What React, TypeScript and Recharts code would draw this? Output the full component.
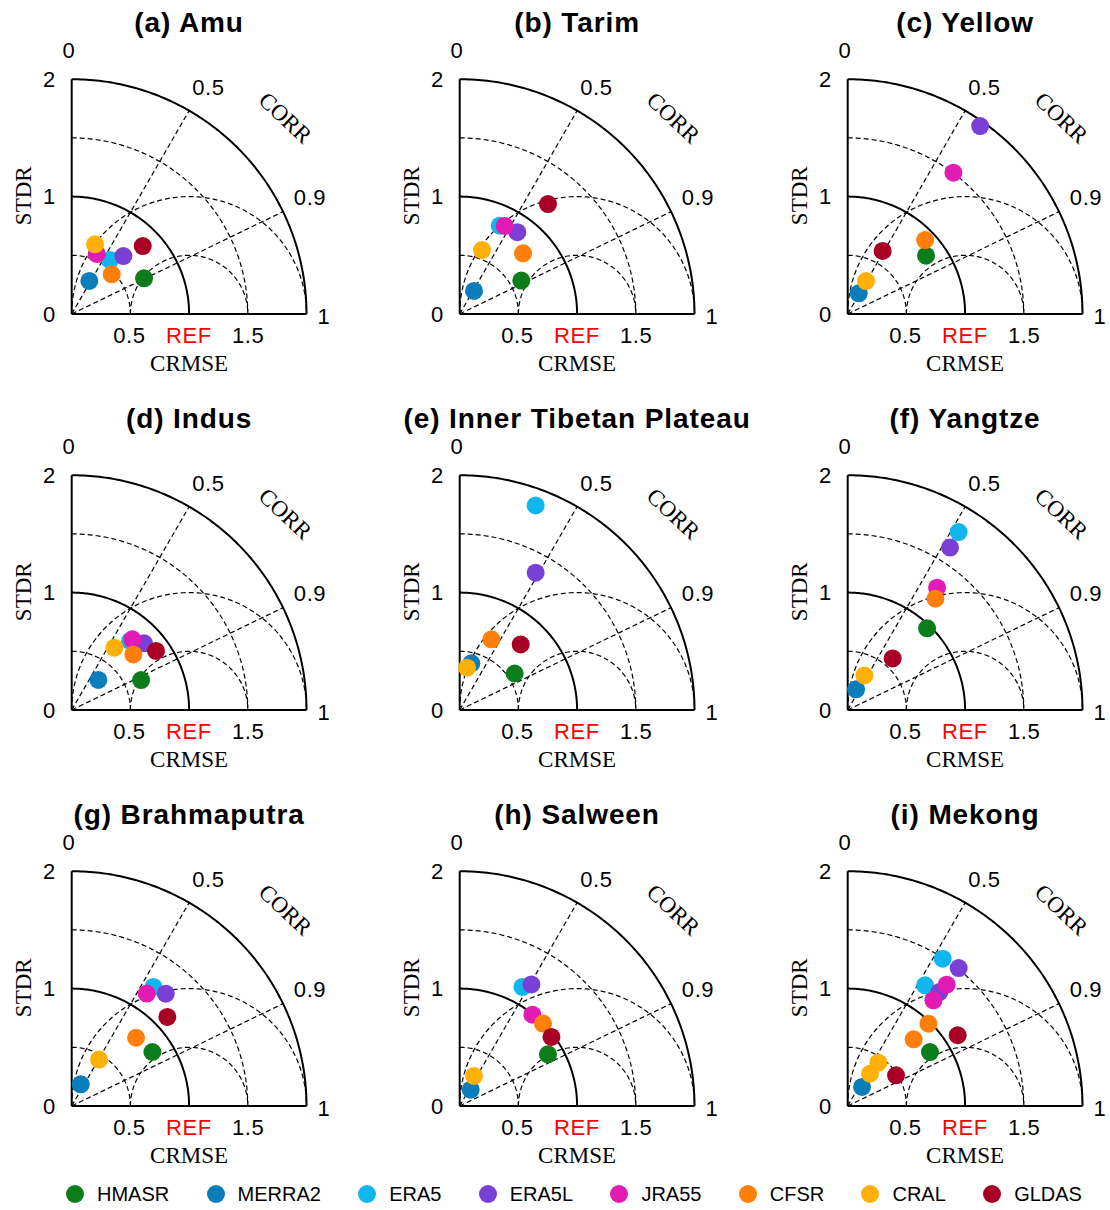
import React from 'react';
import { ComposedChart, XAxis, YAxis, Line, Scatter, ReferenceLine, ReferenceDot } from 'recharts';

// ---------- data ----------
const DATASETS = ['HMASR', 'MERRA2', 'ERA5', 'ERA5L', 'JRA55', 'CFSR', 'CRAL', 'GLDAS'];
const COLORS = ['#0b7d1b', '#0b7dbb', '#12b6ee', '#7a40d6', '#e21bb5', '#ff7f0a', '#ffb007', '#a80025'];

const BASIN_TITLES = [
  '(a) Amu', '(b) Tarim', '(c) Yellow',
  '(d) Indus', '(e) Inner Tibetan Plateau', '(f) Yangtze',
  '(g) Brahmaputra', '(h) Salween', '(i) Mekong',
];

// normalized standard deviation (STDR) and correlation, in DATASETS order (null = not shown)
const amuStd = [0.687, 0.319, 0.564, 0.661, 0.554, 0.480, 0.626, 0.837];
const amuCorr = [0.897, 0.471, 0.579, 0.666, 0.385, 0.710, 0.318, 0.723];
const tarimStd = [0.597, 0.231, 0.826, 0.852, 0.842, 0.747, 0.577, 1.201];
const tarimCorr = [0.879, 0.528, 0.413, 0.576, 0.455, 0.722, 0.329, 0.626];
const yellowStd = [0.832, 0.200, null, 1.958, 1.503, 0.912, 0.321, 0.614];
const yellowCorr = [0.802, 0.470, null, 0.576, 0.599, 0.723, 0.486, 0.485];
const indusStd = [0.644, 0.342, 0.770, 0.838, 0.794, 0.707, 0.643, 0.877];
const indusCorr = [0.918, 0.664, 0.645, 0.735, 0.651, 0.743, 0.565, 0.819];
const itpStd = [0.562, 0.410, 1.859, 1.337, null, 0.660, 0.366, 0.763];
const itpCorr = [0.833, 0.242, 0.348, 0.484, null, 0.409, 0.171, 0.681];
const yangtzeStd = [0.970, 0.190, 1.786, 1.635, 1.290, 1.207, 0.327, 0.583];
const yangtzeCorr = [0.697, 0.374, 0.529, 0.533, 0.590, 0.619, 0.434, 0.657];
const brahmaputraStd = [0.827, 0.200, 1.230, 1.248, 1.151, 0.799, 0.459, 1.113];
const brahmaputraCorr = [0.831, 0.384, 0.566, 0.642, 0.555, 0.686, 0.508, 0.732];
const salweenStd = [0.871, 0.168, 1.146, 1.202, 0.994, 0.998, 0.284, 0.978];
const salweenCorr = [0.863, 0.558, 0.466, 0.508, 0.623, 0.711, 0.430, 0.799];
const mekongStd = [0.838, 0.203, 1.493, 1.508, 1.334, 0.982, 0.452, 1.114];
const mekongCorr = [0.836, 0.601, 0.542, 0.627, 0.632, 0.700, 0.578, 0.841];
const mekong2Std = [null, null, 1.221, 1.246, 1.159, 0.799, 0.334, 0.488];
const mekong2Corr = [null, null, 0.540, 0.627, 0.630, 0.703, 0.569, 0.844];

const PANEL_SETS: (number | null)[][][][] = [
  [[amuStd, amuCorr]],
  [[tarimStd, tarimCorr]],
  [[yellowStd, yellowCorr]],
  [[indusStd, indusCorr]],
  [[itpStd, itpCorr]],
  [[yangtzeStd, yangtzeCorr]],
  [[brahmaputraStd, brahmaputraCorr]],
  [[salweenStd, salweenCorr]],
  [[mekongStd, mekongCorr], [mekong2Std, mekong2Corr]],
];

// diagram grid definition
const STD_SOLID = [1, 2];
const STD_DASHED = [0.5, 1.5];
const CRMSE_DASHED = [0.5, 1];
const CORR_LINES = [0.5, 0.9];

// ---------- layout ----------
const COL_STEP = 388;
const ROW_STEP = 396;
const ORIGIN_X = 71.7;
const ORIGIN_Y = 314;
const PX_PER_UNIT = 117.4;
const PANEL_H = 396;

const SANS = '"Liberation Sans", Arial, sans-serif';
const SERIF = '"Liberation Serif", "Times New Roman", serif';

type Lbl = { t: string; x: number; y: number; serif?: boolean; angle?: number; color?: string };
const LABELS: Lbl[] = [
  { t: '0', x: -0.023, y: 2.243 },
  { t: '2', x: -0.19, y: 2 },
  { t: '1', x: -0.19, y: 1 },
  { t: '0', x: -0.19, y: 0 },
  { t: '0.5', x: 1.164, y: 1.936 },
  { t: '0.9', x: 2.03, y: 0.999 },
  { t: '1', x: 2.149, y: -0.017 },
  { t: 'CORR', x: 1.823, y: 1.675, serif: true, angle: 43 },
  { t: 'STDR', x: -0.419, y: 1.007, serif: true, angle: -90 },
  { t: '0.5', x: 0.491, y: -0.179 },
  { t: 'REF', x: 0.999, y: -0.179, color: '#ff0000' },
  { t: '1.5', x: 1.503, y: -0.179 },
  { t: 'CRMSE', x: 1.0, y: -0.42, serif: true },
];

function arc(cx: number, cy: number, r: number, a0: number, a1: number) {
  const n = 120;
  const pts: { x: number; y: number }[] = [];
  for (let i = 0; i <= n; i++) {
    const a = a0 + ((a1 - a0) * i) / n;
    pts.push({ x: cx + r * Math.cos(a), y: cy + r * Math.sin(a) });
  }
  return pts;
}

function toPoints(std: (number | null)[], corr: (number | null)[], k: number) {
  const s = std[k];
  const c = corr[k];
  if (s == null || c == null) return [];
  return [{ x: s * c, y: s * Math.sqrt(1 - c * c) }];
}

function Panel({ index }: { index: number }) {
  const col = index % 3;
  const row = Math.floor(index / 3);
  const W = col < 2 ? 388 : 334;
  const xDom = [-ORIGIN_X / PX_PER_UNIT, (W - ORIGIN_X) / PX_PER_UNIT];
  const yDom = [-(PANEL_H - ORIGIN_Y) / PX_PER_UNIT, ORIGIN_Y / PX_PER_UNIT];
  const sets = PANEL_SETS[index];

  return (
    <div style={{ position: 'absolute', left: col * COL_STEP, top: row * ROW_STEP, width: W, height: PANEL_H }}>
      <ComposedChart width={W} height={PANEL_H} margin={{ top: 0, right: 0, bottom: 0, left: 0 }}>
        <XAxis type="number" dataKey="x" domain={xDom} allowDataOverflow hide />
        <YAxis type="number" dataKey="y" domain={yDom} allowDataOverflow hide width={0} />

        {STD_DASHED.map((r) => (
          <Line key={'sd' + r} data={arc(0, 0, r, Math.PI / 2, 0)} dataKey="y" type="linear" stroke="#000"
            strokeWidth={1.2} strokeDasharray="5 3" dot={false} activeDot={false} isAnimationActive={false} legendType="none" />
        ))}
        {CRMSE_DASHED.map((r) => (
          <Line key={'rm' + r} data={arc(1, 0, r, Math.PI, 0)} dataKey="y" type="linear" stroke="#000"
            strokeWidth={1.2} strokeDasharray="5 3" dot={false} activeDot={false} isAnimationActive={false} legendType="none" />
        ))}
        {CORR_LINES.map((c) => (
          <ReferenceLine key={'cl' + c} segment={[{ x: 0, y: 0 }, { x: 2 * c, y: 2 * Math.sqrt(1 - c * c) }]}
            stroke="#000" strokeWidth={1.2} strokeDasharray="5 3" ifOverflow="visible" />
        ))}
        {STD_SOLID.map((r) => (
          <Line key={'ss' + r} data={arc(0, 0, r, Math.PI / 2, 0)} dataKey="y" type="linear" stroke="#000"
            strokeWidth={2} dot={false} activeDot={false} isAnimationActive={false} legendType="none" />
        ))}
        <ReferenceLine segment={[{ x: 0, y: 0 }, { x: 0, y: 2 }]} stroke="#000" strokeWidth={2} ifOverflow="visible" />
        <ReferenceLine segment={[{ x: 0, y: 0 }, { x: 2, y: 0 }]} stroke="#000" strokeWidth={2} ifOverflow="visible" />

        {LABELS.map((l, i) => (
          <ReferenceDot key={'lb' + i} x={l.x} y={l.y} r={0} fill="none" stroke="none" ifOverflow="visible"
            label={{
              value: l.t, position: 'center', angle: l.angle || 0,
              fontSize: l.serif ? 23 : 22, fontFamily: l.serif ? SERIF : SANS,
              fill: l.color || '#000', letterSpacing: l.serif ? 0 : 0.6,
            }} />
        ))}
        <ReferenceDot x={1.0} y={2.486} r={0} fill="none" stroke="none" ifOverflow="visible"
          label={{ value: BASIN_TITLES[index], position: 'center', fontSize: 28, fontWeight: 700,
            fontFamily: SANS, fill: '#000', letterSpacing: 0.9 }} />

        {DATASETS.map((name, k) => {
          const pts = sets.flatMap(([s, c]) => toPoints(s, c, k));
          if (!pts.length) return null;
          return (
            <Scatter key={name} name={name} data={pts} dataKey="y" fill={COLORS[k]} isAnimationActive={false}
              shape={(p: any) => <circle cx={p.cx} cy={p.cy} r={9} fill={COLORS[k]} />} />
          );
        })}
      </ComposedChart>
    </div>
  );
}

function FigureLegend() {
  return (
    <div style={{ position: 'absolute', left: 66, top: 1194 - 12, height: 24, display: 'flex', alignItems: 'center',
      fontFamily: SANS, fontSize: 20, color: '#000' }}>
      {DATASETS.map((name, k) => (
        <div key={name} style={{ display: 'flex', alignItems: 'center', marginRight: 37.3 }}>
          <span style={{ width: 18, height: 18, borderRadius: '50%', background: COLORS[k], display: 'inline-block', marginRight: 13 }} />
          <span>{name}</span>
        </div>
      ))}
    </div>
  );
}

export default function App() {
  return (
    <div style={{ position: 'absolute', left: 0, top: 0, width: 1110, height: 1210, background: '#fff', overflow: 'hidden' }}>
      {BASIN_TITLES.map((_, i) => (
        <Panel key={i} index={i} />
      ))}
      <FigureLegend />
    </div>
  );
}
